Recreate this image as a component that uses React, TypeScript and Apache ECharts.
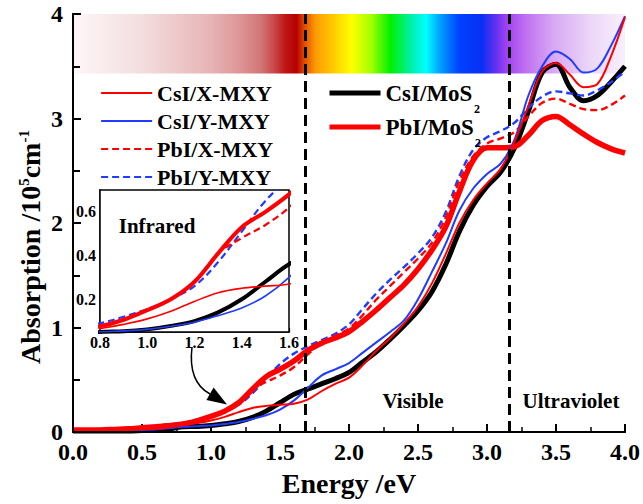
import React, { useEffect, useRef } from 'react';
import * as echarts from 'echarts';

const FONT = '"Liberation Serif", "Times New Roman", serif';

// Photon energy (eV)
const energy = [
  0.0, 0.1, 0.2, 0.3, 0.4, 0.5, 0.6, 0.7, 0.8, 0.9,
  1.0, 1.1, 1.2, 1.3, 1.4, 1.5, 1.6, 1.7, 1.8, 1.9,
  2.0, 2.1, 2.2, 2.3, 2.4, 2.5, 2.6, 2.7, 2.8, 2.9,
  3.0, 3.1, 3.2, 3.3, 3.4, 3.5, 3.6, 3.7, 3.8, 3.9, 4.0,
];

// Absorption (10^5 cm^-1)
const csiXmxy = [
  0.02, 0.02, 0.02, 0.02, 0.02, 0.025, 0.03, 0.045, 0.065, 0.085,
  0.11, 0.145, 0.19, 0.23, 0.25, 0.26, 0.27, 0.31, 0.39, 0.46,
  0.52, 0.64, 0.78, 0.9, 1.04, 1.2, 1.42, 1.7, 2.0, 2.22,
  2.38, 2.52, 2.78, 3.12, 3.45, 3.53, 3.42, 3.3, 3.33, 3.6, 3.97,
];
const csiYmxy = [
  0.01, 0.01, 0.01, 0.01, 0.015, 0.02, 0.025, 0.035, 0.05, 0.055,
  0.062, 0.076, 0.095, 0.125, 0.16, 0.215, 0.3, 0.42, 0.54, 0.6,
  0.66, 0.76, 0.86, 0.96, 1.07, 1.27, 1.53, 1.8, 2.12, 2.33,
  2.47, 2.57, 2.8, 3.22, 3.5, 3.64, 3.57, 3.44, 3.48, 3.7, 3.98,
];
const pbiXmxy = [
  0.02, 0.02, 0.02, 0.025, 0.03, 0.04, 0.05, 0.062, 0.076, 0.106,
  0.15, 0.2, 0.28, 0.41, 0.48, 0.54, 0.62, 0.74, 0.85, 0.92,
  0.99, 1.12, 1.27, 1.4, 1.53, 1.66, 1.81, 2.05, 2.4, 2.64,
  2.76, 2.81, 2.87, 3.02, 3.15, 3.19, 3.14, 3.09, 3.08, 3.13, 3.22,
];
const pbiYmxy = [
  0.02, 0.02, 0.025, 0.03, 0.035, 0.045, 0.06, 0.075, 0.09, 0.12,
  0.155, 0.2, 0.26, 0.37, 0.51, 0.65, 0.75, 0.82, 0.88, 0.94,
  1.03, 1.18, 1.33, 1.46, 1.58, 1.71, 1.86, 2.1, 2.45, 2.7,
  2.82, 2.88, 2.96, 3.1, 3.21, 3.26, 3.24, 3.22, 3.27, 3.35, 3.45,
];
const csiMos2 = [
  0.01, 0.01, 0.01, 0.01, 0.01, 0.015, 0.02, 0.03, 0.05, 0.053,
  0.062, 0.078, 0.1, 0.14, 0.2, 0.28, 0.36, 0.41, 0.46, 0.51,
  0.57, 0.67, 0.77, 0.89, 1.02, 1.16, 1.34, 1.6, 1.92, 2.17,
  2.35, 2.49, 2.72, 3.07, 3.44, 3.52, 3.3, 3.17, 3.22, 3.35, 3.5,
];
const pbiMos2 = [
  0.02, 0.02, 0.02, 0.025, 0.03, 0.04, 0.05, 0.062, 0.076, 0.106,
  0.15, 0.2, 0.28, 0.41, 0.53, 0.6, 0.68, 0.78, 0.85, 0.9,
  0.96, 1.06, 1.17, 1.29, 1.41, 1.56, 1.74, 1.96, 2.3, 2.6,
  2.72, 2.72, 2.73, 2.84, 2.98, 3.02, 2.94, 2.85, 2.77, 2.71, 2.67,
];

const boundaries = [1.68, 3.16];
const spectrumBand = [3.43, 4.0];
const xTicksMain = [0, 4, 0.5];
const yTicksMain = [0, 4, 1];
const insetX = [0.8, 1.6, 0.2];
const insetY = [0.05, 0.7];
const insetYLabels = [0.2, 0.4, 0.6];

const RED = '#ff0000';
const BLUE = '#1f3cff';
const BLACK = '#000000';

const pairs = (ys: number[]) => energy.map((x, i) => [x, ys[i]]);

const seriesDefs = [
  { name: 'CsI/MoS2', data: csiMos2, color: BLACK, width: 5, dash: 'solid' as any, insetWidth: 4 },
  { name: 'PbI/Y-MXY', data: pbiYmxy, color: BLUE, width: 2.4, dash: [7, 4], insetWidth: 2.2 },
  { name: 'PbI/X-MXY', data: pbiXmxy, color: RED, width: 2.4, dash: [7, 4], insetWidth: 2.2 },
  { name: 'PbI/MoS2', data: pbiMos2, color: RED, width: 5.5, dash: 'solid' as any, insetWidth: 4 },
  { name: 'CsI/Y-MXY', data: csiYmxy, color: BLUE, width: 2, dash: 'solid' as any, insetWidth: 1.6 },
  { name: 'CsI/X-MXY', data: csiXmxy, color: RED, width: 2, dash: 'solid' as any, insetWidth: 1.6 },
];

const bold = { fontFamily: FONT, fontWeight: 'bold' as const, color: '#000' };
const boldFill = { fontFamily: FONT, fontWeight: 'bold' as const, fill: '#000' };

export default function App() {
  const ref = useRef<HTMLDivElement>(null);
  useEffect(() => {
    if (!ref.current) return;
    const chart = echarts.init(ref.current, undefined, { renderer: 'svg' });

    const mainSeries: any[] = seriesDefs.map((s) => ({
      name: s.name,
      type: 'line',
      xAxisIndex: 0,
      yAxisIndex: 0,
      data: pairs(s.data),
      smooth: 0.35,
      symbol: 'none',
      z: 3,
      lineStyle: { color: s.color, width: s.width, type: s.dash },
      itemStyle: { color: s.color },
    }));
    const insetSeries: any[] = seriesDefs.map((s) => ({
      name: s.name,
      type: 'line',
      xAxisIndex: 1,
      yAxisIndex: 1,
      data: pairs(s.data),
      smooth: 0.35,
      symbol: 'none',
      z: 3,
      lineStyle: { color: s.color, width: s.insetWidth, type: s.dash },
      itemStyle: { color: s.color },
    }));

    const spectrum = new echarts.graphic.LinearGradient(0, 0, 1, 0, [
      { offset: 0.0, color: '#fdf6f7' },
      { offset: 0.12, color: '#f4dfe0' },
      { offset: 0.25, color: '#e7b4b6' },
      { offset: 0.3, color: '#dd9798' },
      { offset: 0.34, color: '#d27677' },
      { offset: 0.365, color: '#c94749' },
      { offset: 0.385, color: '#c01414' },
      { offset: 0.405, color: '#b60000' },
      { offset: 0.42, color: '#e05000' },
      { offset: 0.44, color: '#ff9c00' },
      { offset: 0.47, color: '#ffc800' },
      { offset: 0.505, color: '#ffff00' },
      { offset: 0.54, color: '#a4ff00' },
      { offset: 0.575, color: '#00f000' },
      { offset: 0.615, color: '#00f0b4' },
      { offset: 0.64, color: '#00ffff' },
      { offset: 0.665, color: '#00a0ff' },
      { offset: 0.7, color: '#0040ff' },
      { offset: 0.74, color: '#0830f4' },
      { offset: 0.765, color: '#6030f0' },
      { offset: 0.785, color: '#a040f0' },
      { offset: 0.82, color: '#c070f0' },
      { offset: 0.87, color: '#d8a8f4' },
      { offset: 0.94, color: '#ecd8f8' },
      { offset: 1.0, color: '#f8f0fc' },
    ]);

    const option: any = {
      animation: false,
      backgroundColor: '#ffffff',
      grid: [
        { left: 73, right: 15, top: 14, bottom: 72, show: false },
        {
          left: 100, top: 190, width: 189, height: 142,
          show: true, backgroundColor: '#ffffff', borderColor: '#000', borderWidth: 1.5, z: 1,
        },
      ],
      legend: [
        {
          data: ['CsI/X-MXY', 'CsI/Y-MXY', 'PbI/X-MXY', 'PbI/Y-MXY'],
          orient: 'vertical', left: 100, top: 82, padding: 0,
          itemWidth: 51, itemHeight: 10, itemGap: 6,
          selectedMode: false,
          itemStyle: { opacity: 0 },
          lineStyle: { width: 2.2 },
          textStyle: { ...bold, fontSize: 22, lineHeight: 22 },
        },
        {
          data: ['CsI/MoS2', 'PbI/MoS2'],
          orient: 'vertical', left: 327, top: 81, padding: 0,
          itemWidth: 51, itemHeight: 10, itemGap: 10, selectedMode: false,
          itemStyle: { opacity: 0 },
          lineStyle: { width: 5 },
          formatter: (n: string) => n.replace(/2$/, ''),
          textStyle: { ...bold, fontSize: 23, lineHeight: 24 },
        },
      ],
      xAxis: [
        {
          type: 'value', gridIndex: 0, min: xTicksMain[0], max: xTicksMain[1], interval: xTicksMain[2],
          name: 'Energy /eV', nameLocation: 'middle', nameGap: 37,
          nameTextStyle: { ...bold, fontSize: 28 },
          axisLine: { show: true, lineStyle: { color: '#000', width: 2 } },
          axisTick: { show: true, inside: true, length: 8, lineStyle: { color: '#000', width: 2 } },
          minorTick: { show: true, splitNumber: 2, length: 5, lineStyle: { color: '#000', width: 1.5 } },
          axisLabel: { ...bold, fontSize: 24, margin: 8, formatter: (v: number) => v.toFixed(1) },
          splitLine: { show: false },
        },
        {
          type: 'value', gridIndex: 1, min: insetX[0], max: insetX[1], interval: insetX[2],
          axisLine: { show: true, lineStyle: { color: '#000', width: 1.5 } },
          axisTick: { show: true, inside: true, length: 4, lineStyle: { color: '#000', width: 1.2 } },
          minorTick: { show: true, splitNumber: 2, length: 3, lineStyle: { color: '#000', width: 1 } },
          axisLabel: { ...bold, fontSize: 16, margin: 2, formatter: (v: number) => v.toFixed(1) },
          splitLine: { show: false },
        },
        {
          type: 'value', gridIndex: 0, position: 'top', min: 0, max: 4, z: 10,
          axisLine: { show: true, lineStyle: { color: '#000', width: 2 } },
          axisTick: { show: false }, axisLabel: { show: false }, splitLine: { show: false },
        },
      ],
      yAxis: [
        {
          type: 'value', gridIndex: 0, min: yTicksMain[0], max: yTicksMain[1], interval: yTicksMain[2], z: 10,
          axisLine: { show: true, lineStyle: { color: '#000', width: 2 } },
          axisTick: { show: true, inside: true, length: 8, lineStyle: { color: '#000', width: 2 } },
          minorTick: { show: true, splitNumber: 2, length: 7, lineStyle: { color: '#000', width: 2 } },
          axisLabel: { ...bold, fontSize: 24, margin: 10 },
          splitLine: { show: false },
        },
        {
          type: 'value', gridIndex: 1, min: insetY[0], max: insetY[1],
          axisLine: { show: true, lineStyle: { color: '#000', width: 1.5 } },
          axisTick: { show: true, inside: true, length: 4, customValues: insetYLabels, lineStyle: { color: '#000', width: 1.2 } },
          axisLabel: { ...bold, fontSize: 16, margin: 4, customValues: insetYLabels, formatter: (v: number) => v.toFixed(1) },
          splitLine: { show: false },
        },
        {
          type: 'value', gridIndex: 0, position: 'right', min: 0, max: 4, z: 10,
          axisLine: { show: true, lineStyle: { color: '#000', width: 2 } },
          axisTick: { show: false }, axisLabel: { show: false }, splitLine: { show: false },
        },
      ],
      series: [
        {
          type: 'line', xAxisIndex: 0, yAxisIndex: 0, data: [], z: 0, silent: true,
          markArea: {
            silent: true,
            itemStyle: { color: spectrum, opacity: 1 },
            data: [[{ xAxis: 0, yAxis: spectrumBand[0] }, { xAxis: 4, yAxis: spectrumBand[1] }]],
          },
        },
        {
          type: 'line', xAxisIndex: 0, yAxisIndex: 0, data: [], z: 1, silent: true,
          markLine: {
            silent: true, symbol: 'none', label: { show: false },
            lineStyle: { color: '#000', type: [11, 6], width: 3 },
            data: boundaries.map((b) => ({ xAxis: b })),
          },
        },
        ...mainSeries,
        ...insetSeries,
      ],
      graphic: [
        {
          type: 'text', x: 30, y: 247, rotation: Math.PI / 2, z: 100,
          style: {
            text: '{a|Absorption /10}{s|5}{a|cm}{s|-1}',
            align: 'center', verticalAlign: 'middle',
            rich: {
              a: { ...boldFill, fontSize: 28, lineHeight: 28, verticalAlign: 'bottom', padding: [10, 0, 0, 0] },
              s: { ...boldFill, fontSize: 15, lineHeight: 15, verticalAlign: 'top' },
            },
          },
        },
        {
          type: 'text', x: 474, y: 103, z: 100,
          style: { text: '2', ...boldFill, fontSize: 12, align: 'left', verticalAlign: 'top' },
        },
        {
          type: 'text', x: 475, y: 137, z: 100,
          style: { text: '2', ...boldFill, fontSize: 12, align: 'left', verticalAlign: 'top' },
        },
        {
          type: 'text', x: 157, y: 226, z: 100,
          style: { text: 'Infrared', ...boldFill, fontSize: 21, align: 'center', verticalAlign: 'middle' },
        },
        {
          type: 'text', x: 413, y: 401, z: 100,
          style: { text: 'Visible', ...boldFill, fontSize: 21, align: 'center', verticalAlign: 'middle' },
        },
        {
          type: 'text', x: 571, y: 401, z: 100,
          style: { text: 'Ultraviolet', ...boldFill, fontSize: 21, align: 'center', verticalAlign: 'middle' },
        },
        {
          type: 'bezierCurve', z: 100,
          shape: { x1: 192, y1: 347, cpx1: 189, cpy1: 372, cpx2: 197, cpy2: 387, x2: 210, y2: 394 },
          style: { stroke: '#000', lineWidth: 1.5, fill: 'none' },
        },
        {
          type: 'polygon', z: 100,
          shape: { points: [[213.6, 387.5], [227, 404.5], [206.4, 400]] },
          style: { fill: '#000' },
        },
      ],
    };

    chart.setOption(option);
    return () => chart.dispose();
  }, []);

  return (
    <div
      ref={ref}
      style={{ position: 'fixed', left: 0, top: 0, width: 643, height: 504, background: '#fff' }}
    />
  );
}
